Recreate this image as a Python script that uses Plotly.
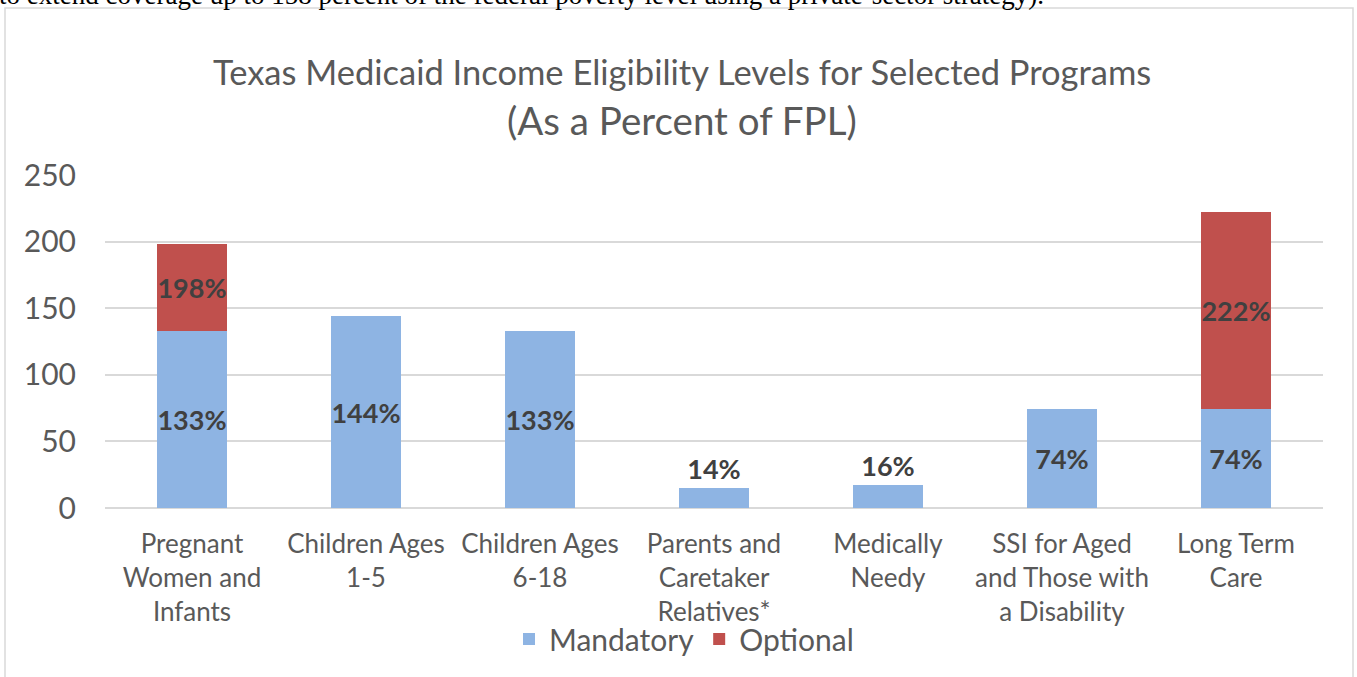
import plotly.graph_objects as go

# data
programs = [
    "Pregnant<br>Women and<br>Infants",
    "Children Ages<br>1-5",
    "Children Ages<br>6-18",
    "Parents and<br>Caretaker<br>Relatives*",
    "Medically<br>Needy",
    "SSI for Aged<br>and Those with<br>a Disability",
    "Long Term<br>Care",
]
mandatory = [133, 144, 133, 15, 17, 74, 74]
optional = [65, None, None, None, None, None, 148]
mandatory_labels = ["133%", "144%", "133%", "14%", "16%", "74%", "74%"]
optional_labels = ["198%", "", "", "", "", "", "222%"]
y_ticks = [0, 50, 100, 150, 200, 250]

BLUE = "#8EB4E3"
RED = "#C0504D"
GREY = "#595959"
FONT = "Lato"

# plot area in pixels (used to place the outer frame / titles)
L, R, T, B = 105, 34, 175, 169
W, H = 1357, 677
pw, ph = W - L - R, H - T - B


def px_x(x):
    return (x - L) / pw


def px_y(y):
    return (H - B - y) / ph


label_font = dict(family=FONT, size=27, color="#404040", weight="bold")

fig = go.Figure()

fig.add_trace(go.Bar(
    x=programs, y=mandatory, name="Mandatory",
    marker=dict(color=BLUE, line=dict(width=0)),
    text=mandatory_labels,
    textposition=["inside", "inside", "inside", "outside", "outside", "inside", "inside"],
    insidetextanchor="middle",
    textangle=0,
    textfont=label_font,
    cliponaxis=False,
))
fig.add_trace(go.Bar(
    x=programs, y=optional, name="Optional",
    marker=dict(color=RED, line=dict(width=0)),
    text=optional_labels,
    textposition="inside",
    insidetextanchor="middle",
    textangle=0,
    textfont=label_font,
))

fig.update_layout(
    width=W, height=H,
    barmode="stack", bargap=0.6,
    plot_bgcolor="white", paper_bgcolor="white",
    margin=dict(l=L, r=R, t=T, b=B, autoexpand=False),
    font=dict(family=FONT, color=GREY),
    showlegend=True,
    legend=dict(orientation="h", x=px_x(684), y=px_y(639),
                xanchor="center", yanchor="middle",
                bgcolor="rgba(0,0,0,0)",
                font=dict(size=30, color=GREY), traceorder="normal"),
    xaxis=dict(showgrid=False, showline=False, ticks="",
               tickfont=dict(size=26, color=GREY), tickangle=0,
               ticklabelstandoff=18),
    yaxis=dict(range=[0, 250], tickvals=y_ticks, showgrid=True,
               gridcolor="#D9D9D9", gridwidth=1.5, zeroline=True,
               zerolinecolor="#D9D9D9", zerolinewidth=1.5,
               tickfont=dict(size=30, color=GREY), ticks="",
               ticklabelstandoff=28),
)

fig.update_traces(constraintext="none")

# titles
fig.add_annotation(text="Texas Medicaid Income Eligibility Levels for Selected Programs",
                   xref="paper", yref="paper", x=px_x(682), y=px_y(72),
                   xanchor="center", yanchor="middle", showarrow=False,
                   font=dict(size=34.5, color=GREY, family=FONT))
fig.add_annotation(text="(As a Percent of FPL)",
                   xref="paper", yref="paper", x=px_x(682), y=px_y(120),
                   xanchor="center", yanchor="middle", showarrow=False,
                   font=dict(size=38.5, color=GREY, family=FONT))

# cut-off line of document text above the chart
fig.add_annotation(text="to extend coverage up to 158 percent of the federal poverty level using a private-sector strategy).",
                   xref="paper", yref="paper", x=px_x(-3), y=px_y(-5),
                   xanchor="left", yanchor="middle", showarrow=False,
                   font=dict(size=27, color="black", family="Liberation Serif"))

# chart frame
fig.add_shape(type="rect", xref="paper", yref="paper",
              x0=px_x(5), x1=px_x(1353), y0=px_y(700), y1=px_y(8),
              line=dict(color="#D9D9D9", width=1.5), layer="below")

# drop the default page margin so the figure sits at the window's corner
fig.write_html("out.html", config={"displayModeBar": False},
               post_script="document.body.style.margin='0';")
